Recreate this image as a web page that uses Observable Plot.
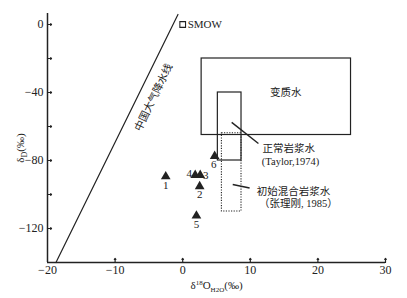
<!DOCTYPE html>
<html><head><meta charset="utf-8">
<script src="https://cdn.jsdelivr.net/npm/d3@7"></script>
<script src="https://cdn.jsdelivr.net/npm/@observablehq/plot@0.6"></script>
<style>
body{margin:0;background:#fff}
#chart svg{font-family:"Liberation Serif","Times New Roman","Noto Sans CJK SC",serif !important;}
#chart svg g[aria-label="x-axis"] text, #chart svg g[aria-label="y-axis"] text,
#chart svg g[aria-label="x-axis tick label"] text, #chart svg g[aria-label="y-axis tick label"] text{font-family:"Liberation Serif","Times New Roman",serif !important;font-size:12px;}
</style>
</head><body><div id="chart"></div>
<script>
// samples (δ18O H2O, δD)
const sampleIds = ["1", "2", "3", "4", "5", "6"];
const sampleO = [-2.51, 2.51, 2.59, 1.85, 2.03, 4.73];
const sampleD = [-89.4, -95.2, -88.6, -88.6, -112.5, -77.4];
// China meteoric water line endpoints
const mwlO = [-18.75, -0.7];
const mwlD = [-140, 5.9];
// SMOW
const smowO = [0];
const smowD = [0];
// fields
const boxNames = ["变质水", "正常岩浆水", "初始混合岩浆水"];
const boxO1 = [2.8, 5.2, 5.8];
const boxO2 = [24.9, 8.7, 8.7];
const boxD1 = [-65, -80, -110];
const boxD2 = [-20, -40, -64];
// leader lines
const leaderO1 = [7.25, 7.4];
const leaderD1 = [-57.6, -94.1];
const leaderO2 = [11.2, 9.9];
const leaderD2 = [-70, -96.2];
// annotation labels
const noteText = ["变质水", "正常岩浆水", "(Taylor,1974)", "初始混合岩浆水", "（张理刚, 1985）"];
const noteO = [12.9, 11.8, 11.7, 10.95, 11.3];
const noteD = [-40, -72.9, -80.6, -98.2, -105.3];
// ticks
const xTicks = [-20, -10, 0, 10, 20, 30];
const xMinor = [-10, 0, 10, 20, 30];
const yTicks = [0, -40, -80, -120];
const yMinor = [0, -20, -40, -60, -80, -100, -120];

const samples = sampleIds.map((id, i) => ({id, o: sampleO[i], d: sampleD[i]}));
const mwl = mwlO.map((o, i) => ({o, d: mwlD[i]}));
const boxes = boxNames.map((n, i) => ({n, x1: boxO1[i], x2: boxO2[i], y1: boxD1[i], y2: boxD2[i]}));
const leaders = leaderO1.map((o, i) => ({x1: o, y1: leaderD1[i], x2: leaderO2[i], y2: leaderD2[i]}));
const notes = noteText.map((t, i) => ({t, o: noteO[i], d: noteD[i]}));
const smow = smowO.map((o, i) => ({o, d: smowD[i]}));
const sub = id => samples.filter(s => s.id === id);
const below = samples.filter(s => ["1", "2", "5"].includes(s.id));

const ink = "#222";
const serif = "Liberation Serif, Times New Roman, Noto Sans CJK SC, serif";
const cjk = "Noto Sans CJK SC, Liberation Serif, serif";

const chart = Plot.plot({
  width: 407, height: 298,
  marginLeft: 47, marginRight: 22, marginTop: 13, marginBottom: 36,
  style: {fontSize: "12px", color: ink, background: "#fff"},
  x: {domain: [-20, 30], ticks: xTicks, tickSize: 0, tickPadding: 3, label: null},
  y: {domain: [-140, 6.47], ticks: yTicks, tickSize: 0, tickPadding: 4, label: null},
  marks: [
    Plot.ruleX([-20], {y1: -140, y2: 6.47, stroke: ink, strokeWidth: 1.5}),
    Plot.ruleY([-140], {x1: -20, x2: 30, stroke: ink, strokeWidth: 1.5}),
    Plot.vector(xMinor, {x: d => d, y: -140, length: 4, rotate: 0, anchor: "start", stroke: ink, strokeWidth: 1.2}),
    Plot.vector(yMinor, {x: -20, y: d => d, length: 4, rotate: 90, anchor: "start", stroke: ink, strokeWidth: 1.2}),
    Plot.line(mwl, {x: "o", y: "d", stroke: ink, strokeWidth: 1.2}),
    Plot.text(["中国大气降水线"], {x: -4.3, y: -42.9, text: d => d, rotate: -64.2, fontSize: 10.5, fontFamily: cjk, fill: ink, textAnchor: "middle", lineAnchor: "middle", style: "letter-spacing:1.4px"}),
    Plot.rect(boxes.slice(0, 2), {x1: "x1", x2: "x2", y1: "y1", y2: "y2", fill: "none", stroke: ink, strokeWidth: 1.2}),
    Plot.rect(boxes.slice(2), {x1: "x1", x2: "x2", y1: "y1", y2: "y2", fill: "none", stroke: ink, strokeWidth: 1.1, strokeDasharray: "1.2,1.4"}),
    Plot.link(leaders, {x1: "x1", y1: "y1", x2: "x2", y2: "y2", stroke: ink, strokeWidth: 1.4}),
    Plot.dot(smow, {x: "o", y: "d", symbol: "square", r: 3.2, fill: "#fff", stroke: ink, strokeWidth: 1.1}),
    Plot.text(smow, {x: "o", y: "d", text: () => "SMOW", dx: 5, textAnchor: "start", lineAnchor: "middle", fontSize: 11, fontFamily: serif, fill: ink}),
    Plot.text(notes, {x: "o", y: "d", text: "t", textAnchor: "start", lineAnchor: "middle", fontSize: 10.5, fontFamily: serif, fill: ink, style: "letter-spacing:1px"}),
    Plot.dot(samples, {x: "o", y: "d", symbol: "triangle", r: 3.6, fill: ink, stroke: "none"}),
    Plot.text(below, {x: "o", y: "d", text: "id", dy: 8.5, lineAnchor: "middle", fontSize: 11, fontFamily: serif, fill: ink}),
    Plot.text(sub("4"), {x: "o", y: "d", text: "id", dx: -6, dy: -1.5, lineAnchor: "middle", fontSize: 11, fontFamily: serif, fill: ink}),
    Plot.text(sub("3"), {x: "o", y: "d", text: "id", dx: 5.5, dy: 0, lineAnchor: "middle", fontSize: 11, fontFamily: serif, fill: ink}),
    Plot.text(sub("6"), {x: "o", y: "d", text: "id", dx: -1, dy: 8.5, lineAnchor: "middle", fontSize: 11, fontFamily: serif, fill: ink}),
    Plot.text(["δD(‰)"], {frameAnchor: "left", dx: -27, dy: 10, rotate: -90, text: d => d, textAnchor: "middle", lineAnchor: "middle", fontSize: 11, fontFamily: serif, fill: ink}),
    Plot.text(["δ18OH2O(‰)"], {frameAnchor: "bottom", dx: 0, dy: 23, text: d => d, textAnchor: "middle", lineAnchor: "middle", fontSize: 11, fontFamily: serif, fill: ink})
  ]
});

// sub/superscripts in axis titles
const svg = d3.select(chart);
svg.selectAll("text").filter(function() { return this.textContent === "δD(‰)"; }).each(function() {
  const t = d3.select(this).text(null);
  t.append("tspan").text("δ");
  t.append("tspan").attr("font-size", 8).attr("dy", 2.5).text("D");
  t.append("tspan").attr("dy", -2.5).text("(‰)");
});
svg.selectAll("text").filter(function() { return this.textContent === "δ18OH2O(‰)"; }).each(function() {
  const t = d3.select(this).text(null);
  t.append("tspan").text("δ");
  t.append("tspan").attr("font-size", 7).attr("dy", -4).text("18");
  t.append("tspan").attr("dy", 4).text("O");
  t.append("tspan").attr("font-size", 7).attr("dy", 2.5).text("H2O");
  t.append("tspan").attr("dy", -2.5).text("(‰)");
});

document.getElementById("chart").appendChild(chart);
</script>
</body></html>
